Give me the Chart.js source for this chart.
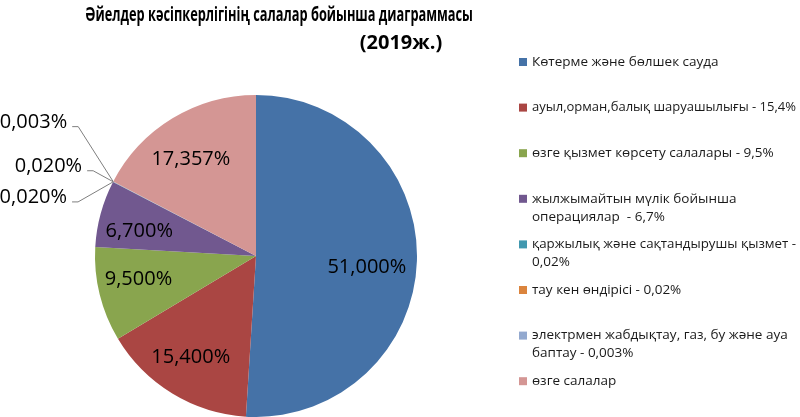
<!DOCTYPE html>
<html>
<head>
<meta charset="utf-8">
<script src="https://cdn.jsdelivr.net/npm/chart.js@4/dist/chart.umd.min.js"></script>
<style>
  body { margin: 0; background: #fff; overflow: hidden; }
</style>
</head>
<body>
<canvas id="pie-chart" width="800" height="417"></canvas>
<script>
// data
var titleLines = ['Әйелдер кәсіпкерлігінің салалар бойынша диаграммасы', '(2019ж.)'];
var categories = [
    'Көтерме және бөлшек сауда',
    'ауыл,орман,балық шаруашылығы - 15,4%',
    'өзге қызмет көрсету салалары - 9,5%',
    'жылжымайтын мүлік бойынша\nоперациялар  - 6,7%',
    'қаржылық және сақтандырушы қызмет -\n0,02%',
    'тау кен өндірісі - 0,02%',
    'электрмен жабдықтау, газ, бу және ауа\nбаптау - 0,003%',
    'өзге салалар'
];
var shares = [51, 15.4, 9.5, 6.7, 0.02, 0.02, 0.003, 17.357];
var sliceColors = ['#4572A7', '#AA4643', '#89A54E', '#71588F', '#4198AF', '#DB843D', '#93A9CF', '#D49694'];

function pct(v) {
    return v.toFixed(3).replace('.', ',') + '%';
}

// small vertical nudges so the inside labels sit like excel's best fit
var labelNudgeY = [8, 2, -4, 6, 0, 0, 0, 2];

// small slices get their labels outside, stacked left of the pie
var outsideSpots = [
    { tx: -46, ty: 15, lx: -41, ly: 20 },
    { tx: -31, ty: -15, lx: -26, ly: -11 },
    { tx: -46, ty: -59, lx: -41, ly: -55 }
];

var extras = {
    id: 'extras',
    afterDatasetsDraw: function (chart) {
        var ctx = chart.ctx;
        var arcs = chart.getDatasetMeta(0).data;
        ctx.save();

        // slice labels
        ctx.font = '20px "Open Sans"';
        ctx.fillStyle = '#000';
        ctx.textBaseline = 'middle';
        var k = 0;
        arcs.forEach(function (arc, i) {
            var p = arc.getProps(['x', 'y', 'startAngle', 'endAngle', 'outerRadius'], true);
            var mid = (p.startAngle + p.endAngle) / 2;
            if (shares[i] >= 1) {
                ctx.textAlign = 'center';
                ctx.fillText(pct(shares[i]),
                    p.x + Math.cos(mid) * p.outerRadius * 0.72 - 5,
                    p.y + Math.sin(mid) * p.outerRadius * 0.72 + labelNudgeY[i]);
            } else {
                var ex = p.x + Math.cos(mid) * p.outerRadius;
                var ey = p.y + Math.sin(mid) * p.outerRadius;
                var s = outsideSpots[k++];
                ctx.strokeStyle = '#7f7f7f';
                ctx.lineWidth = 1;
                ctx.beginPath();
                ctx.moveTo(ex + s.lx, ey + s.ly);
                ctx.lineTo(ex + s.lx + 6, ey + s.ly);
                ctx.lineTo(ex, ey);
                ctx.stroke();
                ctx.textAlign = 'right';
                ctx.fillText(pct(shares[i]), ex + s.tx, ey + s.ty);
            }
        });

        // title
        ctx.fillStyle = '#000';
        ctx.textAlign = 'center';
        ctx.font = 'bold 20px "Liberation Sans Narrow", "Open Sans"';
        ctx.fillText(titleLines[0], 279, 15, 388);
        ctx.fillText(titleLines[1], 401, 43, 92);

        // legend
        ctx.font = '13.5px "Open Sans"';
        ctx.textAlign = 'left';
        categories.forEach(function (c, i) {
            var y = 62 + i * 45.6;
            ctx.fillStyle = sliceColors[i];
            ctx.fillRect(519, y - 4, 8, 8);
            ctx.fillStyle = '#1a1a1a';
            c.split('\n').forEach(function (line, j) {
                ctx.fillText(line, 532, y + j * 18, 264);
            });
        });

        ctx.restore();
    }
};

var pieConfig = {
    type: 'pie',
    data: {
        labels: categories,
        datasets: [{
            data: shares,
            backgroundColor: sliceColors,
            borderWidth: 0
        }]
    },
    options: {
        responsive: false,
        animation: false,
        layout: { padding: { left: 95, top: 95, right: 383, bottom: 0 } },
        plugins: {
            legend: { display: false },
            tooltip: { enabled: false }
        }
    },
    plugins: [extras]
};

var pieContext = document.getElementById('pie-chart').getContext('2d');
window.myPie = new Chart(pieContext, pieConfig);
</script>
</body>
</html>
